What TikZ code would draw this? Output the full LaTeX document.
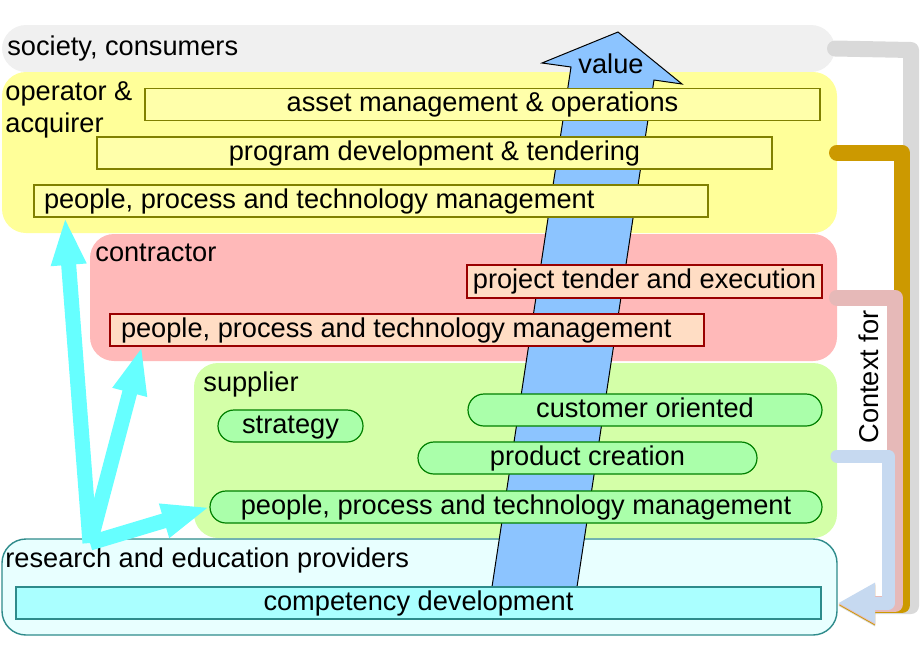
\documentclass[tikz,border=0pt]{standalone}
\usepackage{fontspec}
\setmainfont{Liberation Sans}
\usetikzlibrary{arrows.meta,calc}
\definecolor{socgray}{HTML}{F0F0F0}
\definecolor{opyel}{HTML}{FFFF99}
\definecolor{opbox}{HTML}{FFFFAA}
\definecolor{opline}{HTML}{808000}
\definecolor{conpink}{HTML}{FFB9B9}
\definecolor{conbox}{HTML}{FFDDC4}
\definecolor{conline}{HTML}{990000}
\definecolor{supgreen}{HTML}{D4FFA8}
\definecolor{supbox}{HTML}{AAFFAA}
\definecolor{supline}{HTML}{008000}
\definecolor{resfill}{HTML}{E8FFFF}
\definecolor{resline}{HTML}{2E8B8B}
\definecolor{resbox}{HTML}{AAFFFF}
\definecolor{valblue}{HTML}{8CC4FF}
\definecolor{cyanarr}{HTML}{66FFFF}
\definecolor{ctxgray}{HTML}{D9D9D9}
\definecolor{ctxgold}{HTML}{CC9900}
\definecolor{ctxpink}{HTML}{E6B9B8}
\definecolor{ctxblue}{HTML}{C6D9F0}
\tikzset{
  grp/.style={rectangle, rounded corners=12pt, inner sep=0pt, outer sep=0pt},
  lbl/.style={inner sep=0pt, anchor=base west},
  boxbase/.style={rectangle, minimum height=16pt, inner ysep=0pt, inner xsep=2pt, outer sep=0pt, text height=10pt, text depth=3pt, line width=0.6pt},
  ybox/.style={boxbase, draw=opline, fill=opbox},
  cbox/.style={boxbase, draw=conline, fill=conbox},
  sbox/.style={boxbase, draw=supline, fill=supbox, rounded corners=8pt},
  rbox/.style={boxbase, draw=resline, fill=resbox},
  cyarrow/.style={draw=cyanarr, line width=7.5pt, -{Triangle[length=24pt,width=16pt]}},
  ctxline/.style={line width=8pt, line cap=round, line join=round, -{Triangle[length=18.5pt,width=19pt]}}
}
\begin{document}
\begin{tikzpicture}[x=0.5pt,y=-0.5pt,font=\fontsize{13.6}{16}\selectfont]
\useasboundingbox (0,0) rectangle (920,660);
% groups
\node[grp, fill=socgray, minimum width=416.5pt, minimum height=23.5pt] (gsoc) at (418.5,48.5) {};
\node[grp, fill=opyel, minimum width=417.5pt, minimum height=80.5pt] (gop) at (419.5,152.5) {};
\node[grp, fill=conpink, minimum width=373.5pt, minimum height=63.5pt] (gcon) at (463.5,297.5) {};
\node[grp, fill=supgreen, minimum width=321.5pt, minimum height=87.5pt] (gsup) at (515.5,450.5) {};
\node[grp, fill=resfill, draw=resline, line width=0.7pt, minimum width=417.5pt, minimum height=48pt] (gres) at (419.5,587) {};
% group labels
\node[lbl] (lsoc) at (7,55) {society, consumers};
\node[inner sep=0pt, anchor=north west, align=left] (lop) at (5,81) {operator \&\\acquirer};
\node[lbl] (lcon) at (95,261) {contractor};
\node[lbl] (lsup) at (203,391) {supplier};
\node[lbl] (lres) at (5,567) {research and education providers};
% value arrow
\filldraw[fill=valblue, draw=black, line width=0.5pt] (490,600) -- (575,600) -- (654,80) -- (682,84) -- (618,32) -- (542,63) -- (571,67) -- cycle;
\node[inner sep=0pt, anchor=base] (val) at (611,73) {value};
% boxes
\node[ybox, minimum width=337.5pt] (asset) at (482.5,104.5) {asset management \& operations};
\node[ybox, minimum width=337.5pt] (prog) at (434.5,153) {program development \& tendering};
\node[ybox, inner xsep=5pt, text width=327pt, align=flush left] (p1) at (371,201) {people, process and technology management};
\node[cbox, minimum width=177.5pt, minimum height=16.5pt] (proj) at (644.5,281.5) {project tender and execution};
\node[cbox, inner xsep=5.5pt, text width=286pt, align=flush left] (p2) at (407,330) {people, process and technology management};
\node[sbox, minimum width=72.5pt] (strat) at (290.5,426) {strategy};
\node[sbox, minimum width=177pt] (cust) at (645,410) {customer oriented};
\node[sbox, minimum width=169.5pt] (prod) at (587.5,458) {product creation};
\node[sbox, minimum width=306pt] (p3) at (516,507) {people, process and technology management};
\node[rbox, minimum width=402.5pt] (comp) at (418.5,603) {competency development};
% cyan arrows
\coordinate (rsrc) at (90,543);
\draw[cyarrow] (rsrc) -- ($(p1.south west)+(31,0)$);
\draw[cyarrow] (rsrc) -- ($(p2.south west)+(32,0)$);
\draw[cyarrow] (rsrc) -- (p3.west);
% context connectors
\coordinate (ctxtip) at (838,603);
\draw[ctxline, ctxgray] (gsoc.east) -- (911,50) -- (911,606) -- ($(ctxtip)+(0,3)$);
\draw[ctxline, ctxgold] (gop.east) -- (902,152.5) -- (902,605) -- ($(ctxtip)+(0,2)$);
\draw[ctxline, ctxpink] (gcon.east) -- (895,297.5) -- (895,604) -- ($(ctxtip)+(0,1)$);
\draw[ctxline, ctxblue, line width=6.5pt] ([yshift=-2.75pt]gsup.east) -- (888,456) -- (888,603) -- (ctxtip);
\node[rotate=90, inner sep=1pt] (ctx) at (869,377) {Context for};
\end{tikzpicture}
\end{document}
